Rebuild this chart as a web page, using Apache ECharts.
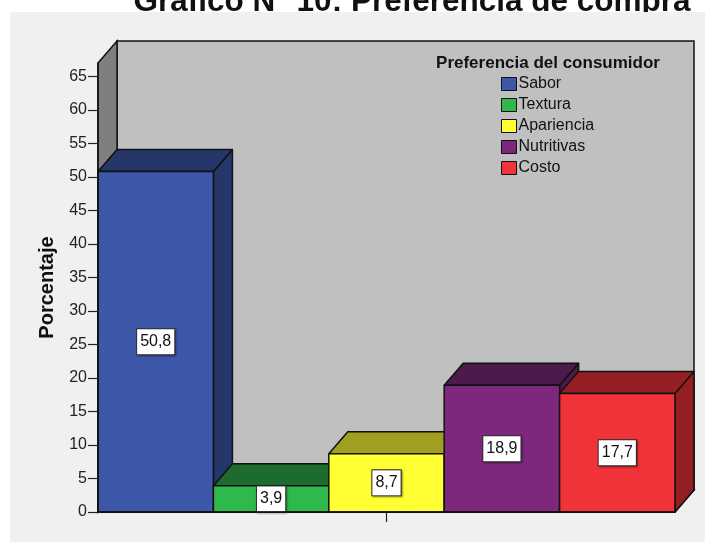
<!DOCTYPE html>
<html>
<head>
<meta charset="utf-8">
<script src="https://cdn.jsdelivr.net/npm/echarts@6/dist/echarts.min.js"></script>
<style>
  html, body { margin: 0; padding: 0; background: #ffffff; }
  #chart { width: 705px; height: 542px; }
</style>
</head>
<body>
<div id="chart"></div>
<script>
// Consumer purchase preference (% of respondents)
const categories = ['Sabor', 'Textura', 'Apariencia', 'Nutritivas', 'Costo'];
const percentages = [50.8, 3.9, 8.7, 18.9, 17.7];
const yTicks = [0, 5, 10, 15, 20, 25, 30, 35, 40, 45, 50, 55, 60, 65];

// front face colour and darker top/side shade per category
const frontColors = ['#3d57a9', '#2fb84b', '#ffff33', '#7d287c', '#f03339'];
const shadeColors = ['#25366b', '#1d6c2d', '#a19f1f', '#4d1a4c', '#931f22'];

const FONT = "'Liberation Sans', Arial, sans-serif";
const DX = 19, DY = 22;          // depth offset of the pseudo-3D boxes
const EDGE = '#111111';

function fmt(v) { return String(v).replace('.', ','); }

const chart = echarts.init(document.getElementById('chart'), null, { renderer: 'canvas' });

// back wall, left wall, floor and the single centre tick
const wallSeries = {
  type: 'custom',
  name: '__walls',
  z: 1,
  silent: true,
  data: [[0, 0]],
  renderItem(params, api) {
    const cs = params.coordSys;
    const x0 = cs.x, x1 = cs.x + cs.width, y0 = cs.y, y1 = cs.y + cs.height;
    const cx = (x0 + x1) / 2;
    return {
      type: 'group',
      children: [
        { type: 'rect', shape: { x: x0 + DX, y: y0 - DY, width: cs.width, height: cs.height },
          style: { fill: '#c0c0c0', stroke: EDGE, lineWidth: 1.5 } },
        { type: 'polygon', shape: { points: [[x0, y1], [x0 + DX, y1 - DY], [x1 + DX, y1 - DY], [x1, y1]] },
          style: { fill: '#c0c0c0', stroke: EDGE, lineWidth: 1.5 } },
        { type: 'polygon', shape: { points: [[x0, y0], [x0 + DX, y0 - DY], [x0 + DX, y1 - DY], [x0, y1]] },
          style: { fill: '#7f7f7f', stroke: EDGE, lineWidth: 1.5 } },
        { type: 'line', shape: { x1: cx, y1: y1, x2: cx, y2: y1 + 10 },
          style: { stroke: '#222', lineWidth: 1.2 } }
      ]
    };
  }
};

function boxRenderer(idx) {
  return function (params, api) {
    const cat = api.value(0);
    const val = api.value(1);
    const top = api.coord([cat, val]);
    const base = api.coord([cat, 0]);
    const w = api.size([1, 0])[0];
    const l = top[0] - w / 2, r = top[0] + w / 2;
    const yt = top[1], yb = base[1];
    const shade = shadeColors[idx];
    const st = { stroke: EDGE, lineWidth: 1.5, lineJoin: 'round' };
    return {
      type: 'group',
      children: [
        { type: 'polygon', shape: { points: [[r, yt], [r + DX, yt - DY], [r + DX, yb - DY], [r, yb]] },
          style: Object.assign({ fill: shade }, st) },
        { type: 'polygon', shape: { points: [[l, yt], [l + DX, yt - DY], [r + DX, yt - DY], [r, yt]] },
          style: Object.assign({ fill: shade }, st) },
        { type: 'rect', shape: { x: l, y: yt, width: w, height: yb - yt },
          style: Object.assign({ fill: frontColors[idx] }, st) },
        { type: 'text', x: top[0], y: (yt + yb) / 2,
          style: {
            text: fmt(val), fontSize: 16, fontFamily: FONT, fill: '#111',
            align: 'center', verticalAlign: 'middle',
            backgroundColor: '#ffffff', borderColor: '#333', borderWidth: 1,
            padding: [5, 3, 4, 3],
            shadowColor: 'rgba(0,0,0,0.35)', shadowBlur: 2, shadowOffsetX: 1, shadowOffsetY: 1
          } }
      ]
    };
  };
}

const barSeries = categories.map((name, i) => ({
  type: 'custom',
  name: name,
  z: 2,
  itemStyle: { color: frontColors[i] },
  data: [[i, percentages[i]]],
  renderItem: boxRenderer(i)
}));

chart.setOption({
  animation: false,
  backgroundColor: '#ffffff',
  grid: { left: 98, right: 30, top: 63, bottom: 30, containLabel: false },
  xAxis: {
    type: 'category',
    data: categories,
    z: 5,
    axisLine: { show: true, lineStyle: { color: EDGE, width: 1.5 } },
    axisTick: { show: false },
    axisLabel: { show: false },
    splitLine: { show: false }
  },
  yAxis: {
    type: 'value',
    min: 0,
    max: 67,
    z: 5,
    name: 'Porcentaje',
    nameLocation: 'middle',
    nameRotate: 90,
    nameGap: 41,
    nameTextStyle: { fontSize: 20, fontWeight: 'bold', color: '#111', fontFamily: FONT },
    axisLine: { show: true, lineStyle: { color: EDGE, width: 1.5 } },
    axisTick: { show: true, length: 10, customValues: yTicks, lineStyle: { color: '#222', width: 1.2 } },
    axisLabel: { customValues: yTicks, fontSize: 16, color: '#222', fontFamily: FONT, margin: 11 },
    splitLine: { show: false }
  },
  legend: {
    data: categories,
    orient: 'vertical',
    left: 496,
    top: 71,
    padding: 5,
    icon: 'rect',
    itemWidth: 15,
    itemHeight: 13,
    itemGap: 5,
    selectedMode: false,
    itemStyle: { borderColor: EDGE, borderWidth: 1 },
    textStyle: { fontSize: 16, color: '#111', fontFamily: FONT, lineHeight: 14, padding: [0, 0, 0, -3] }
  },
  graphic: [
    { type: 'text', z: 0, x: 412, y: 2,
      style: { text: 'Gráfico N° 10: Preferencia de compra', fontSize: 31.5, fontWeight: 'bold',
               fontFamily: FONT, fill: '#111', align: 'center', verticalAlign: 'middle' } },
    { type: 'rect', z: 1, shape: { x: 10, y: 12, width: 695, height: 530 },
      style: { fill: '#f0f0f0' } },
    { type: 'text', z: 10, x: 548, y: 63,
      style: { text: 'Preferencia del consumidor', fontSize: 17, fontWeight: 'bold',
               fontFamily: FONT, fill: '#111', align: 'center', verticalAlign: 'middle' } }
  ],
  series: [wallSeries].concat(barSeries)
});
</script>
</body>
</html>
